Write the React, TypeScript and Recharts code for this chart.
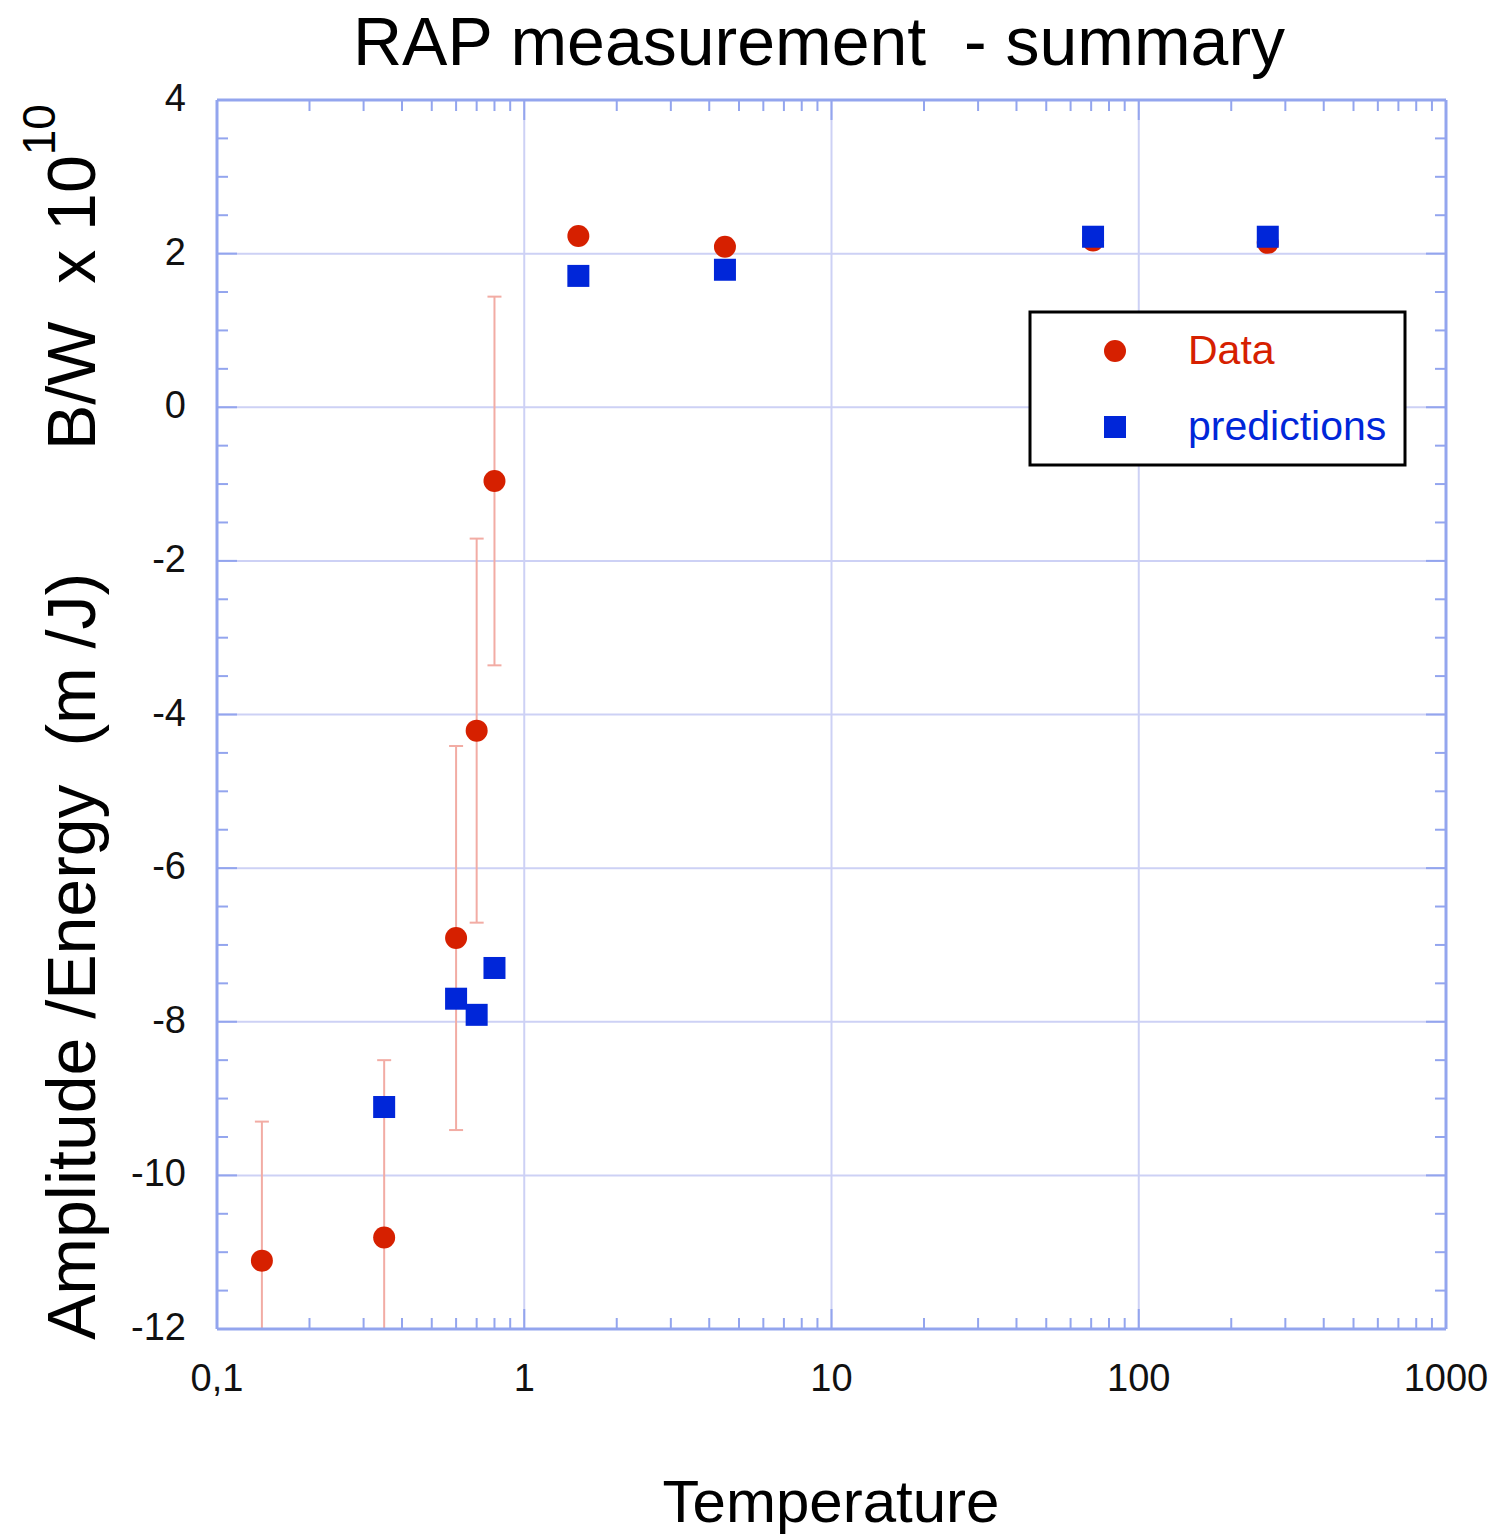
import React from 'react';
import { ScatterChart, Scatter, XAxis, YAxis, ErrorBar, ReferenceLine } from 'recharts';

// ---- data ----
const dataTemps = [0.14, 0.35, 0.6, 0.7, 0.8, 1.5, 4.5, 71, 263];
const dataValues = [-11.11, -10.81, -6.91, -4.21, -0.96, 2.23, 2.09, 2.17, 2.14];
const dataErrors: (number | null)[] = [1.81, 2.31, 2.5, 2.5, 2.4, null, null, null, null];

const predTemps = [0.35, 0.6, 0.7, 0.8, 1.5, 4.5, 71, 263];
const predValues = [-9.11, -7.7, -7.91, -7.3, 1.71, 1.79, 2.22, 2.22];

// ---- ticks ----
const xMajorTicks = [0.1, 1, 10, 100, 1000];
const xMinorTicks = [
  0.2, 0.3, 0.4, 0.5, 0.6, 0.7, 0.8, 0.9,
  2, 3, 4, 5, 6, 7, 8, 9,
  20, 30, 40, 50, 60, 70, 80, 90,
  200, 300, 400, 500, 600, 700, 800, 900,
];
const xTickLabels = ['0,1', '1', '10', '100', '1000'];
const yMajorTicks = [-12, -10, -8, -6, -4, -2, 0, 2, 4];
const yMinorTicks = [
  -11.5, -11, -10.5, -9.5, -9, -8.5, -7.5, -7, -6.5, -5.5, -5, -4.5,
  -3.5, -3, -2.5, -1.5, -1, -0.5, 0.5, 1, 1.5, 2.5, 3, 3.5,
];
const xGridValues = [1, 10, 100];
const yGridValues = [-10, -8, -6, -4, -2, 0, 2];

const seriesNames = ['Data', 'predictions'];

// ---- styles ----
const RED = '#d62000';
const BLUE = '#0026d9';
const ERR = '#f2aca4';
const AXIS = '#93a5ee';
const GRID = '#cdd1f5';
const FONT = '"Liberation Sans", Arial, Helvetica, sans-serif';

const dataRows = dataTemps.map((t, i) => ({ t, v: dataValues[i], err: dataErrors[i] }));
const predRows = predTemps.map((t, i) => ({ t, v: predValues[i] }));

const allXTicks = [...xMajorTicks, ...xMinorTicks].sort((a, b) => a - b);
const allYTicks = [...yMajorTicks, ...yMinorTicks].sort((a, b) => a - b);

const isXMajor = (v: number) => xMajorTicks.some((m) => Math.abs(m - v) < 1e-9);
const isYMajor = (v: number) => yMajorTicks.some((m) => Math.abs(m - v) < 1e-9);

const BottomTick = (props: any) => {
  const { x, y, payload } = props;
  const v = payload.value;
  const major = isXMajor(v);
  const idx = xMajorTicks.findIndex((m) => Math.abs(m - v) < 1e-9);
  return (
    <g>
      <line x1={x} x2={x} y1={y} y2={y - (major ? 20 : 11)} stroke={AXIS} strokeWidth={2} />
      {major && (
        <text x={x} y={y + 62} textAnchor="middle" fontSize={38} fontFamily={FONT} fill="#111">
          {xTickLabels[idx]}
        </text>
      )}
    </g>
  );
};

const TopTick = (props: any) => {
  const { x, y, payload } = props;
  const major = isXMajor(payload.value);
  return <line x1={x} x2={x} y1={y} y2={y + (major ? 20 : 11)} stroke={AXIS} strokeWidth={2} />;
};

const LeftTick = (props: any) => {
  const { x, y, payload } = props;
  const v = payload.value;
  const major = isYMajor(v);
  return (
    <g>
      <line x1={x} x2={x + (major ? 20 : 11)} y1={y} y2={y} stroke={AXIS} strokeWidth={2} />
      {major && (
        <text x={x - 31} y={y + 11} textAnchor="end" fontSize={38} fontFamily={FONT} fill="#111">
          {String(v)}
        </text>
      )}
    </g>
  );
};

const RightTick = (props: any) => {
  const { x, y, payload } = props;
  const major = isYMajor(payload.value);
  return <line x1={x} x2={x - (major ? 20 : 11)} y1={y} y2={y} stroke={AXIS} strokeWidth={2} />;
};

const CircleShape = (props: any) => <circle cx={props.cx} cy={props.cy} r={11} fill={RED} />;
const SquareShape = (props: any) => (
  <rect x={props.cx - 11} y={props.cy - 11} width={22} height={22} fill={BLUE} />
);

export default function App() {
  return (
    <div style={{ position: 'absolute', left: 0, top: 0, width: 1498, height: 1535, background: '#fff' }}>
      <svg width={0} height={0} style={{ position: 'absolute' }}>
        <defs>
          <clipPath id="plotAreaClip" clipPathUnits="userSpaceOnUse">
            <rect x={217} y={100} width={1229} height={1229} />
          </clipPath>
        </defs>
      </svg>
      <ScatterChart width={1498} height={1535} margin={{ top: 99, right: 51, bottom: 0, left: 0 }}>
        <XAxis
          xAxisId="b"
          orientation="bottom"
          type="number"
          dataKey="t"
          scale="log"
          domain={[0.1, 1000]}
          allowDataOverflow
          ticks={allXTicks}
          interval={0}
          tickLine={false}
          tickSize={0}
          tickMargin={0}
          height={206}
          axisLine={{ stroke: AXIS, strokeWidth: 3 }}
          tick={<BottomTick />}
        />
        <XAxis
          xAxisId="t"
          orientation="top"
          type="number"
          dataKey="t"
          scale="log"
          domain={[0.1, 1000]}
          allowDataOverflow
          ticks={allXTicks}
          interval={0}
          tickLine={false}
          tickSize={0}
          tickMargin={0}
          height={1}
          axisLine={{ stroke: AXIS, strokeWidth: 3 }}
          tick={<TopTick />}
        />
        <YAxis
          yAxisId="l"
          orientation="left"
          type="number"
          dataKey="v"
          domain={[-12, 4]}
          allowDataOverflow
          ticks={allYTicks}
          interval={0}
          tickLine={false}
          tickSize={0}
          tickMargin={0}
          width={217}
          axisLine={{ stroke: AXIS, strokeWidth: 3 }}
          tick={<LeftTick />}
        />
        <YAxis
          yAxisId="r"
          orientation="right"
          type="number"
          dataKey="v"
          domain={[-12, 4]}
          allowDataOverflow
          ticks={allYTicks}
          interval={0}
          tickLine={false}
          tickSize={0}
          tickMargin={0}
          width={1}
          axisLine={{ stroke: AXIS, strokeWidth: 3 }}
          tick={<RightTick />}
        />
        {xGridValues.map((g) => (
          <ReferenceLine key={'gx' + g} x={g} xAxisId="b" yAxisId="l" stroke={GRID} strokeWidth={2} />
        ))}
        {yGridValues.map((g) => (
          <ReferenceLine key={'gy' + g} y={g} xAxisId="b" yAxisId="l" stroke={GRID} strokeWidth={2} />
        ))}
        <Scatter
          name={seriesNames[0]}
          data={dataRows}
          xAxisId="b"
          yAxisId="l"
          dataKey="v"
          fill={RED}
          shape={CircleShape}
          isAnimationActive={false}
        >
          <ErrorBar
            dataKey="err"
            direction="y"
            width={7}
            stroke={ERR}
            strokeWidth={2}
            clipPath="url(#plotAreaClip)"
            isAnimationActive={false}
          />
        </Scatter>
        <Scatter
          name={seriesNames[1]}
          data={predRows}
          xAxisId="b"
          yAxisId="l"
          dataKey="v"
          fill={BLUE}
          shape={SquareShape}
          isAnimationActive={false}
        />
      </ScatterChart>
      <svg
        width={1498}
        height={1535}
        style={{ position: 'absolute', left: 0, top: 0, pointerEvents: 'none' }}
      >
        <text x={819} y={65} textAnchor="middle" fontSize={68} fontFamily={FONT} fill="#000" style={{ whiteSpace: 'pre' }}>
          {'RAP measurement  - summary'}
        </text>
        <text x={831} y={1522} textAnchor="middle" fontSize={60} fontFamily={FONT} fill="#000">
          Temperature
        </text>
        <text
          x={95}
          y={1340}
          transform="rotate(-90 95 1340)"
          textAnchor="start"
          fontSize={68}
          fontFamily={FONT}
          fill="#000"
          style={{ whiteSpace: 'pre' }}
        >
          {'Amplitude /Energy  (m /J)'}
        </text>
        <text
          x={95}
          y={450}
          transform="rotate(-90 95 450)"
          textAnchor="start"
          fontSize={68}
          fontFamily={FONT}
          fill="#000"
          style={{ whiteSpace: 'pre' }}
        >
          {'B/W  x 10'}
          <tspan fontSize={46} dy={-40}>10</tspan>
        </text>
        {/* legend */}
        <rect x={1030} y={312} width={375} height={153} fill="#fff" stroke="#000" strokeWidth={3} />
        <circle cx={1115} cy={351} r={11} fill={RED} />
        <text x={1188} y={364} fontSize={41} fontFamily={FONT} fill={RED}>
          {seriesNames[0]}
        </text>
        <rect x={1104} y={416} width={22} height={22} fill={BLUE} />
        <text x={1188} y={440} fontSize={41} fontFamily={FONT} fill={BLUE}>
          {seriesNames[1]}
        </text>
      </svg>
    </div>
  );
}
